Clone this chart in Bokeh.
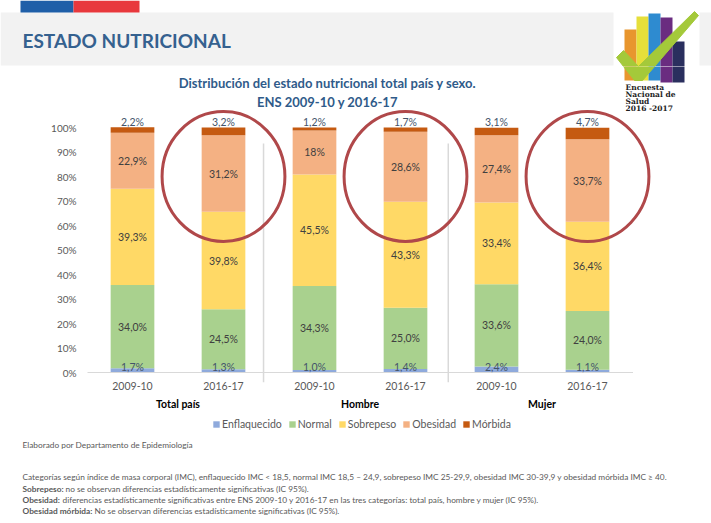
from bokeh.plotting import figure
from bokeh.models import (ColumnDataSource, Range1d, FixedTicker, LinearAxis, PrintfTickFormatter,
                          Legend, LegendItem)
from bokeh.embed import file_html
from bokeh.resources import INLINE
from bokeh.core.properties import value

# ---------------- data ----------------
groups = ["Total país", "Hombre", "Mujer"]
periods = ["2009-10", "2016-17"]
series = ["Enflaquecido", "Normal", "Sobrepeso", "Obesidad", "Mórbida"]
enflaquecido = [1.7, 1.3, 1.0, 1.4, 2.4, 1.1]
normal = [34.0, 24.5, 34.3, 25.0, 33.6, 24.0]
sobrepeso = [39.3, 39.8, 45.5, 43.3, 33.4, 36.4]
obesidad = [22.9, 31.2, 18, 28.6, 27.4, 33.7]
morbida = [2.2, 3.2, 1.2, 1.7, 3.1, 4.7]
y_ticks = [0, 10, 20, 30, 40, 50, 60, 70, 80, 90, 100]

colors = ["#8FAADC", "#A9D18E", "#FFD966", "#F4B183", "#C55A11"]
FONT = "Lato"
PAGE_W, PAGE_H = 711, 523

n = len(groups) * len(periods)
idx = list(range(n))
cat_labels = [periods[i % len(periods)] for i in idx]
group_pos = [g * len(periods) + (len(periods) - 1) / 2 for g in range(len(groups))]


def fmt(v):
    if isinstance(v, int):
        return f"{v}%"
    return f"{v:.1f}".replace(".", ",") + "%"


keys = ["enf", "nor", "sob", "obe", "mor"]
vals = [enflaquecido, normal, sobrepeso, obesidad, morbida]
src = ColumnDataSource(dict(x=idx, **{k: v for k, v in zip(keys, vals)}))

# ---------------- decorations (page pixel coordinates) ----------------
logo_cols = ["#E8962E", "#E6DF3A", "#2E8BD0", "#6A2C80", "#2A2F5E"]
logo_left = [624, 636, 648, 660, 672]
logo_top = [29, 16, 13, 17, 41]
logo_bottom = [80, 80, 80, 82, 82]
check_x = [616, 623, 638, 694, 698, 642, 634]
check_y = [57, 50, 66, 11, 15, 80, 80]
logo_text = ["Encuesta", "Nacional de", "Salud", "2016 -2017"]
logo_text_y = [87, 94, 101, 108]


def draw_logo(f, with_text, **rn):
    f.quad(left=logo_left, right=[l + 12 for l in logo_left], top=logo_top, bottom=logo_bottom,
           color=logo_cols, line_color=None, **rn)
    f.patch(x=check_x, y=check_y, fill_color="#A4C93A", line_color="#A4C93A", line_width=1, **rn)
    if with_text:
        f.text(x=[625] * len(logo_text), y=logo_text_y, text=logo_text, text_font=value("DejaVu Serif"),
               text_font_style="bold", text_font_size="7.5px", text_color="#1E1E1E",
               text_baseline="middle", **rn)


def bare(w, h, x0, x1, y0, y1):
    f = figure(width=w, height=h, output_backend="svg", toolbar_location=None,
               x_range=Range1d(x0, x1), y_range=Range1d(y0, y1),
               x_axis_location=None, y_axis_location=None,
               min_border_left=0, min_border_right=0, min_border_top=0, min_border_bottom=0)
    f.outline_line_color = None
    f.xgrid.visible = False
    f.ygrid.visible = False
    return f


# ---------------- header ----------------
HDR = 66
hdr = bare(PAGE_W, HDR, 0, PAGE_W, HDR, 0)
hdr.quad(left=[0, 699], right=[613, PAGE_W], top=[12, 12], bottom=[65, 65], color="#F2F2F2", line_color=None)
hdr.quad(left=[20, 73], right=[73, 139], top=[0, 0], bottom=[12, 12], color=["#1F5FA8", "#E8383D"],
         line_color=None)
hdr.text(x=[22], y=[40], text=["ESTADO NUTRICIONAL"], text_font=value(FONT), text_font_style="bold",
         text_font_size="19px", text_color="#35618F", text_baseline="middle")
draw_logo(hdr, False)

# ---------------- chart ----------------
FR_L, FR_T, FR_B = 87, HDR, 382
CH_BOTTOM = 416
PXU = 2.45            # px per percent unit
Y0 = 372              # page y of 0%
XC0, XSTEP = 132, 91  # page x of first bar, bar spacing
x_start = -(XC0 - FR_L) / XSTEP
x_end = x_start + (PAGE_W - FR_L) / XSTEP
y_start = -(FR_B - Y0) / PXU
y_end = (Y0 - FR_T) / PXU

p = figure(width=PAGE_W, height=CH_BOTTOM - HDR, output_backend="svg", toolbar_location=None,
           x_range=Range1d(x_start, x_end), y_range=Range1d(y_start, y_end),
           min_border_left=FR_L, min_border_right=0, min_border_top=0,
           min_border_bottom=CH_BOTTOM - FR_B)
p.extra_x_ranges = {"px": Range1d(FR_L, PAGE_W)}
p.extra_y_ranges = {"px": Range1d(FR_B, FR_T)}
p.outline_line_color = None
p.xgrid.visible = False
p.ygrid.visible = False

# decorations continuing from header + chart title
draw_logo(p, True, x_range_name="px", y_range_name="px")
p.text(x=[327, 327], y=[82, 101],
       text=["Distribución del estado nutricional total país y sexo.", "ENS 2009-10 y 2016-17"],
       text_font=value(FONT), text_font_style="bold", text_font_size="13px", text_color="#2F5B8A",
       text_baseline="middle", text_align="center", x_range_name="px", y_range_name="px")

# bars
rs = p.vbar_stack(keys, x="x", width=0.48, color=colors, line_color=None, source=src)

# axis line & group separators
p.segment(x0=idx[0] - 0.5, y0=0, x1=idx[-1] + 0.5, y1=0, line_color="#D9D9D9", line_width=1)
p.segment(x0=[1.44, 3.47], y0=[93.5, 93.5], x1=[1.44, 3.47], y1=[y_start, y_start],
          line_color="#D9D9D9", line_width=1.5)

# data labels
mid_x, mid_y, mid_t = [], [], []
edge_x, edge_y, edge_t = [], [], []
for i in idx:
    base = 0.0
    for s, v in enumerate(vals):
        val = v[i]
        if s == 0:
            edge_x.append(i); edge_y.append(2.3); edge_t.append(fmt(val))
        elif s == len(vals) - 1:
            edge_x.append(i); edge_y.append(base + val + 2.2); edge_t.append(fmt(val))
        else:
            mid_x.append(i); mid_y.append(base + val / 2); mid_t.append(fmt(val))
        base += val
p.text(x=mid_x, y=mid_y, text=mid_t, text_align="center", text_baseline="middle",
       text_font=value(FONT), text_font_size="10.5px", text_color="#404040")
p.text(x=edge_x, y=edge_y, text=edge_t, text_align="center", text_baseline="middle",
       text_font=value(FONT), text_font_size="10.5px", text_color="#44546A")

# highlight ellipses around 2016-17 obesity
p.ellipse(x=[i for i in idx if i % 2 == 1], y=80, width=1.35, height=53,
          fill_color=None, line_color="#B0484A", line_width=3)

# axes
yax = p.yaxis[0]
yax.ticker = FixedTicker(ticks=y_ticks)
yax.formatter = PrintfTickFormatter(format="%d%%")
yax.axis_line_color = None
yax.major_tick_line_color = None
yax.minor_tick_line_color = None
yax.major_tick_out = 0
yax.major_tick_in = 0
yax.major_label_standoff = 11
yax.major_label_text_font = FONT
yax.major_label_text_font_size = "10px"
yax.major_label_text_color = "#595959"

xax = p.xaxis[0]
xax.ticker = FixedTicker(ticks=idx)
xax.major_label_overrides = {i: lab for i, lab in zip(idx, cat_labels)}
xax.axis_line_color = None
xax.major_tick_line_color = None
xax.minor_tick_line_color = None
xax.major_tick_out = 0
xax.major_tick_in = 0
xax.major_label_standoff = -1
xax.major_label_text_font = FONT
xax.major_label_text_font_size = "10.5px"
xax.major_label_text_color = "#595959"

gax = LinearAxis(ticker=FixedTicker(ticks=group_pos),
                 major_label_overrides={g: name for g, name in zip(group_pos, groups)},
                 axis_line_color=None, major_tick_line_color=None, minor_tick_line_color=None,
                 major_tick_out=0, major_tick_in=0, major_label_standoff=5,
                 major_label_text_font=FONT, major_label_text_font_size="10.5px",
                 major_label_text_font_style="bold", major_label_text_color="#000000")
p.add_layout(gax, "below")

# ---------------- footer (legend + notes) ----------------
FT_TOP = CH_BOTTOM
ft = bare(PAGE_W, PAGE_H - FT_TOP, 0, PAGE_W, PAGE_H, FT_TOP)
dummies = [ft.vbar(x=[-1000], top=[FT_TOP], bottom=[FT_TOP], width=1, color=c, line_color=None)
           for c in colors]
legend = Legend(items=[LegendItem(label=s, renderers=[r]) for s, r in zip(series, dummies)],
                orientation="horizontal", location=(212, PAGE_H - 430), glyph_width=8, glyph_height=8,
                label_standoff=2, spacing=6, padding=0, margin=0, border_line_color=None,
                background_fill_alpha=0, label_text_font=FONT, label_text_font_size="10.5px",
                label_text_color="#595959", label_height=12)
ft.add_layout(legend, "center")

NOTE_FS = "8.3px"
notes = ["Elaborado por Departamento de Epidemiología",
         "Categorías según índice de masa corporal (IMC), enflaquecido IMC < 18,5, normal IMC 18,5 – 24,9, "
         "sobrepeso IMC 25-29,9, obesidad IMC 30-39,9 y obesidad mórbida IMC ≥ 40."]
ft.text(x=[22, 22], y=[444, 476], text=notes, text_font=value(FONT), text_font_size=NOTE_FS,
        text_color="#595959", text_baseline="middle")
bold_pre = ["Sobrepeso:", "Obesidad:", "Obesidad mórbida:"]
rest = ["no se observan diferencias estadísticamente significativas (IC 95%).",
        "diferencias estadísticamente significativas entre ENS 2009-10 y 2016-17 en las tres categorías: "
        "total país, hombre y mujer (IC 95%).",
        "No se observan diferencias estadísticamente significativas (IC 95%)."]
rows_y = [488, 499, 510]
ft.text(x=[22] * 3, y=rows_y, text=bold_pre, text_font=value(FONT), text_font_size=NOTE_FS,
        text_font_style="bold", text_color="#595959", text_baseline="middle")
ft.text(x=[65, 62, 94], y=rows_y, text=rest, text_font=value(FONT), text_font_size=NOTE_FS,
        text_color="#595959", text_baseline="middle")

open("out.html", "w").write(file_html([hdr, p, ft], INLINE))
